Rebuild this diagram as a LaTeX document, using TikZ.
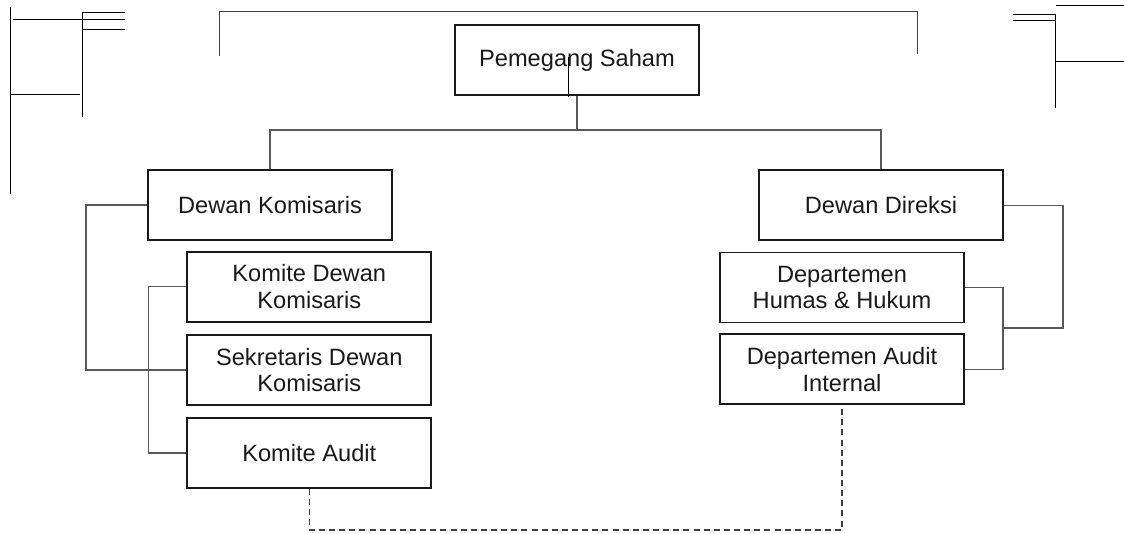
\documentclass[tikz,border=0pt]{standalone}
\usepackage{fontspec}
\setmainfont{Liberation Sans}
\tikzset{
  unit/.style={draw=black!90, line width=1.35pt, minimum width=6.1cm, minimum height=1.75cm,
    align=center, text=black!90, font=\fontsize{16.8}{19}\selectfont},
  link/.style={draw=black!65, line width=0.9pt},
  dashlink/.style={link, draw=black!75, line width=1pt, dash pattern=on 4.3pt off 2.9pt},
  stray/.style={draw=black, line width=0.7pt}
}
\begin{document}
\begin{tikzpicture}[x=0.025cm, y=-0.025cm]
  \useasboundingbox (0,0) rectangle (1124,533);

  % loose rules at the page edges
  \draw[stray] (10.7,7.3) -- (10.7,194);
  \draw[stray] (13.3,19.3) -- (125,19.3);
  \draw[stray] (10.7,94.3) -- (80,94.3);
  \draw[stray] (125,12) -- (82.3,12) -- (82.3,116.7);
  \draw[stray] (82.3,29.3) -- (125,29.3);
  \draw[stray, draw=black!75] (219,55.7) -- (219,11) -- (917.7,11) -- (917.7,54.3);
  \draw[stray] (1012.7,14) -- (1055.7,14) -- (1055.7,108.3);
  \draw[stray] (1013,20.7) -- (1055.7,20.7);
  \draw[stray] (1056,5.7) -- (1124,5.7);
  \draw[stray] (1055.7,61.7) -- (1124,61.7);

  % boxes
  \node[unit] (ps)  at (577,60)    {Pemegang Saham};
  \node[unit] (dk)  at (270,205)   {Dewan Komisaris};
  \node[unit] (dd)  at (881,205.4) {Dewan Direksi};
  \node[unit] (kdk) at (309.3,286.7) {Komite Dewan\\Komisaris};
  \node[unit] (sdk) at (309.3,370)   {Sekretaris Dewan\\Komisaris};
  \node[unit] (ka)  at (309.3,453)   {Komite Audit};
  \node[unit] (dhh) at (842,287.5)   {Departemen\\Humas \& Hukum};
  \node[unit] (dai) at (842,369.2)   {Departemen Audit\\Internal};

  \draw[stray] (568,57) -- (568,97);

  % connectors
  \coordinate (top) at (577,130);
  \coordinate (rmid) at (1002,328);
  \draw[link] (ps.south) -- (top);
  \draw[link] (dk.north) |- (top) -| (dd.north);
  \draw[link] (dk.west) -- ++(-61,0) |- (sdk.west);
  \draw[link] (kdk.west) -- ++(-37.7,0) |- (ka.west);
  \draw[link] (dhh.east) -- ++(38,0) |- (dai.east);
  \draw[link] (dd.east) -- ++(59,0) |- (rmid);
  \draw[dashlink] (ka.south) -- ++(0,41) -| (dai.south);
\end{tikzpicture}
\end{document}
